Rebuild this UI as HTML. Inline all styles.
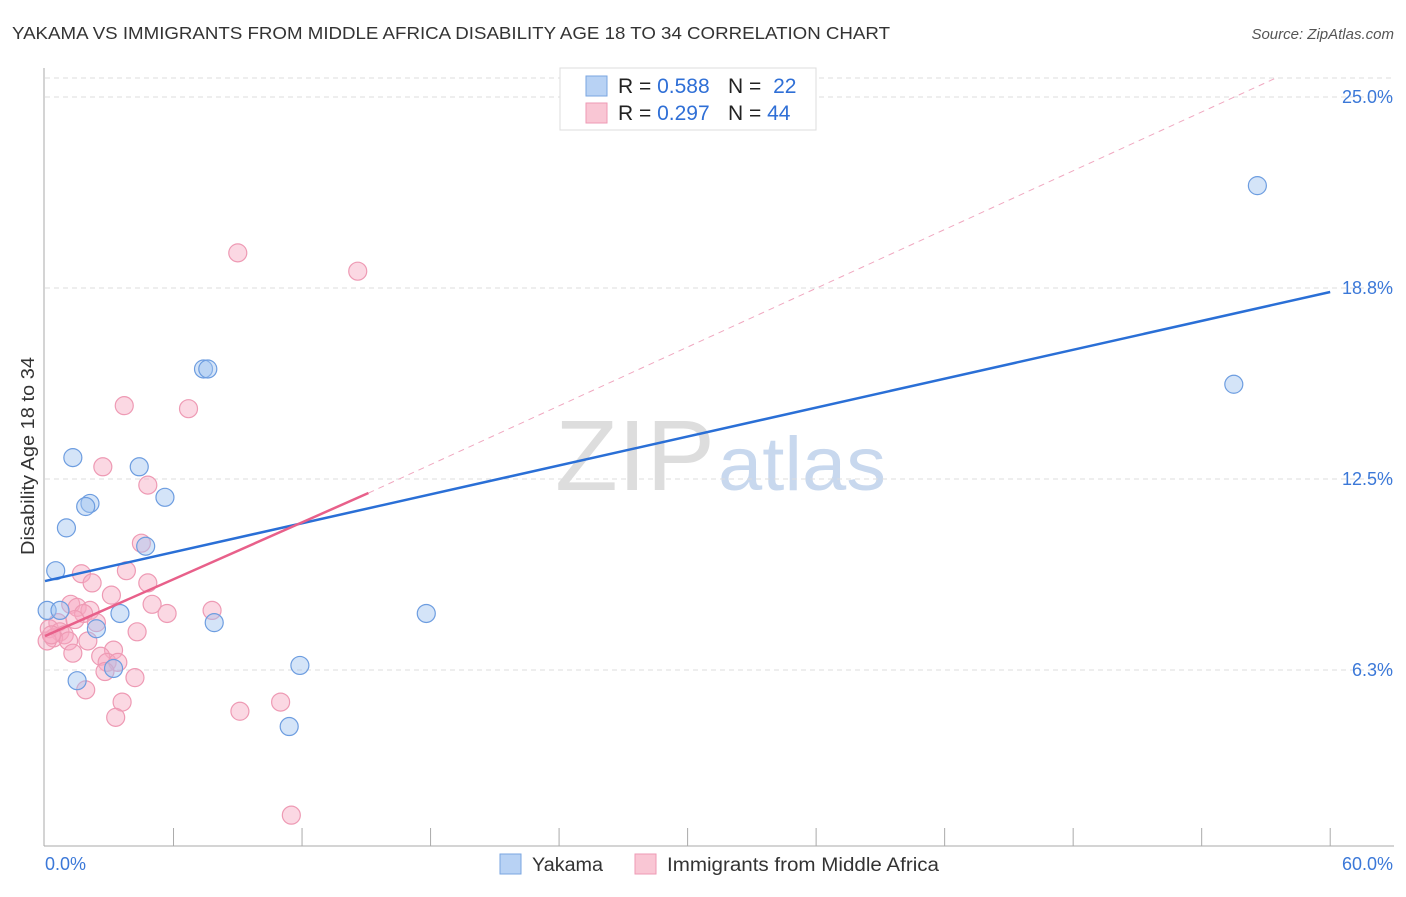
<!DOCTYPE html>
<html><head><meta charset="utf-8"><style>
body{margin:0;background:#fff;font-family:"Liberation Sans",sans-serif}
svg text{font-family:"Liberation Sans",sans-serif}
</style></head><body>
<svg id="c" width="1406" height="892">
<text x="12" y="39" font-size="17.5" fill="#333" textLength="878" lengthAdjust="spacingAndGlyphs">YAKAMA VS IMMIGRANTS FROM MIDDLE AFRICA DISABILITY AGE 18 TO 34 CORRELATION CHART</text>
<text x="1394" y="39" font-size="15" fill="#555" text-anchor="end" font-style="italic">Source: ZipAtlas.com</text>
<text x="34" y="555" font-size="18" fill="#333" textLength="198" lengthAdjust="spacingAndGlyphs" transform="rotate(-90 34 555)">Disability Age 18 to 34</text>
<g><text x="555" y="490" font-size="100" fill="#ddd" textLength="160" lengthAdjust="spacingAndGlyphs" font-family="Liberation Serif">ZIP</text><text x="718" y="490" font-size="76" fill="#c8d8ee" textLength="168" lengthAdjust="spacingAndGlyphs">atlas</text></g>
<g id="grid"></g><g id="axes"></g><g id="pts"></g><g id="lines"></g>
<g>
<rect x="560" y="68" width="256" height="62" fill="#fff" stroke="#ddd"/>
<rect x="586" y="76" width="21" height="20" fill="#b8d2f4" stroke="#7aa6e0"/>
<rect x="586" y="103" width="21" height="20" fill="#f9c6d4" stroke="#ee9ab4"/>
<text x="618" y="93" font-size="21" fill="#222">R = <tspan fill="#2f6fd6">0.588</tspan></text>
<text x="728" y="93" font-size="21" fill="#222">N = <tspan fill="#2f6fd6" dx="6">22</tspan></text>
<text x="618" y="120" font-size="21" fill="#222">R = <tspan fill="#2f6fd6">0.297</tspan></text>
<text x="728" y="120" font-size="21" fill="#222">N = <tspan fill="#2f6fd6">44</tspan></text>
</g>
<g>
<rect x="500" y="854" width="21" height="20" fill="#b8d2f4" stroke="#7aa6e0"/>
<text x="532" y="871" font-size="19" fill="#333" textLength="71" lengthAdjust="spacingAndGlyphs">Yakama</text>
<rect x="635" y="854" width="21" height="20" fill="#f9c6d4" stroke="#ee9ab4"/>
<text x="667" y="871" font-size="19" fill="#333" textLength="272" lengthAdjust="spacingAndGlyphs">Immigrants from Middle Africa</text>
</g>
</svg>
<script>
const yTicks=[6.25,12.5,18.75,25];
const yTickLabels=["6.3%","12.5%","18.8%","25.0%"];
const xEnds=["0.0%","60.0%"];
const blueX=[56.6,55.5,7.4,7.6,1.3,4.4,5.6,2.1,1.9,1.0,4.7,0.5,0.1,0.7,3.5,7.9,2.4,3.2,11.9,1.5,17.8,11.4];
const blueY=[22.1,15.6,16.1,16.1,13.2,12.9,11.9,11.7,11.6,10.9,10.3,9.5,8.2,8.2,8.1,7.8,7.6,6.3,6.4,5.9,8.1,4.4];
const pinkX=[9.0,14.6,3.7,6.7,2.7,4.8,4.5,3.8,1.7,2.2,4.8,3.1,1.2,5.0,1.5,2.1,5.7,7.8,1.8,1.4,0.6,2.4,0.2,0.7,0.9,4.3,0.4,1.1,2.0,3.2,1.3,2.6,2.9,3.4,2.8,4.2,1.9,3.6,11.0,3.3,9.1,11.5,0.1,0.3];
const pinkY=[19.9,19.3,14.9,14.8,12.9,12.3,10.4,9.5,9.4,9.1,9.1,8.7,8.4,8.4,8.3,8.2,8.1,8.2,8.1,7.9,7.8,7.8,7.6,7.5,7.4,7.5,7.3,7.2,7.2,6.9,6.8,6.7,6.5,6.5,6.2,6.0,5.6,5.2,5.2,4.7,4.9,1.5,7.2,7.4];
const blueFit=[9.16,18.62];
const pinkFit=[7.36,0.31];
const pinkSolidEnd=15.1, pinkDashEnd=57.4, pinkDashEndY=25.6;
const X=v=>45+v*21.42, Y=v=>861-v*30.56;
const NS="http://www.w3.org/2000/svg";
function mk(p,t,a){const e=document.createElementNS(NS,t);for(const k in a)e.setAttribute(k,a[k]);document.getElementById(p).appendChild(e);return e;}
yTicks.forEach((t,i)=>{
 const g=mk('grid','line',{x1:45,x2:1394,y1:Y(t),y2:Y(t),stroke:'#ddd','stroke-dasharray':'5,4'});
 
 
 const l=mk('axes','text',{x:1393,y:Y(t)+6,'font-size':18,fill:'#3b78d8','text-anchor':'end'});l.textContent=yTickLabels[i];
 
 
});
const g0=mk('grid','line',{x1:45,x2:1394,y1:78,y2:78,stroke:'#ddd','stroke-dasharray':'5,4'});


const ya=mk('axes','line',{x1:44,x2:44,y1:68,y2:846,stroke:'#aaa'});


const xa=mk('axes','line',{x1:44,x2:1394,y1:846,y2:846,stroke:'#aaa'});


for(let i=1;i<=10;i++){const t=mk('axes','line',{x1:X(i*6),x2:X(i*6),y1:828,y2:846,stroke:'#aaa'});
 
 }
[[0,'start',45],[60,'end',1393]].forEach((d,i)=>{const t=mk('axes','text',{x:d[2],y:870,'font-size':18,fill:'#3b78d8','text-anchor':d[1]});t.textContent=xEnds[i];
 
 });
pinkX.forEach((v,i)=>{const c=mk('pts','circle',{cx:X(v),cy:Y(pinkY[i]),r:9,fill:'rgba(246,168,192,0.45)',stroke:'#ee9ab4','stroke-width':1.2});
 
 });
blueX.forEach((v,i)=>{const c=mk('pts','circle',{cx:X(v),cy:Y(blueY[i]),r:9,fill:'rgba(160,196,240,0.45)',stroke:'#6d9de0','stroke-width':1.2});
 
 });
const pd=mk('lines','line',{x1:X(pinkSolidEnd),y1:Y(pinkFit[0]+pinkFit[1]*pinkSolidEnd),x2:X(pinkDashEnd),y2:Y(pinkDashEndY),stroke:'#f0a8c0','stroke-dasharray':'6,5','stroke-width':1});


const bl=mk('lines','line',{x1:X(0),y1:Y(blueFit[0]),x2:X(60),y2:Y(blueFit[1]),stroke:'#2a6fd6','stroke-width':2.5});


const pl=mk('lines','line',{x1:X(0),y1:Y(pinkFit[0]),x2:X(pinkSolidEnd),y2:Y(pinkFit[0]+pinkFit[1]*pinkSolidEnd),stroke:'#e8608a','stroke-width':2.5});


</script>
</body></html>
